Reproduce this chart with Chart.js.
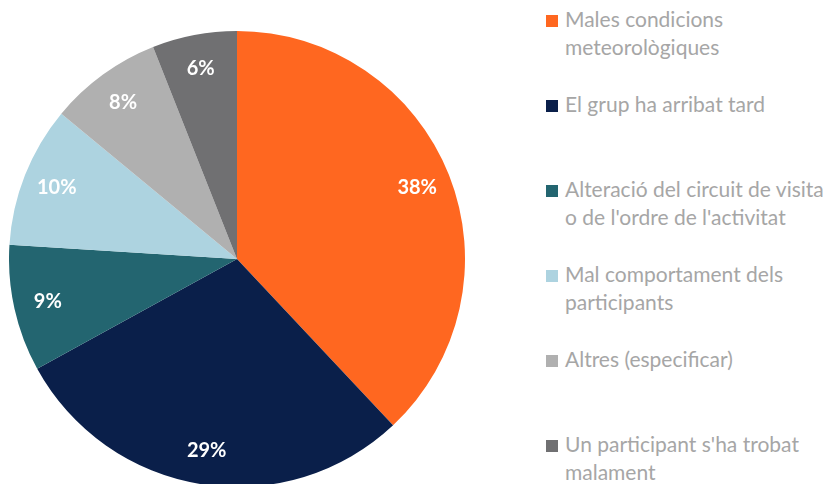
<!DOCTYPE html>
<html>
<head>
<meta charset="utf-8">
<script src="https://cdn.jsdelivr.net/npm/chart.js@4.4.0/dist/chart.umd.min.js"></script>
<style>
  html, body { margin: 0; padding: 0; background: #fff; }
  body { width: 839px; height: 484px; overflow: hidden; position: relative; font-family: Lato, "Open Sans", sans-serif; }
  #wrap { position: absolute; left: 9px; top: 31px; width: 456px; height: 456px; }
  #legend { position: absolute; left: 546px; top: 6px; }
  .item { position: relative; height: 85px; }
  .box { position: absolute; left: 0; top: 9px; width: 12px; height: 12px; }
  .txt { position: absolute; left: 19px; top: -1px; color: #a6a6a6; font-size: 21px; line-height: 28px; white-space: nowrap; }
</style>
</head>
<body>
<div id="wrap"><canvas id="pieChart"></canvas></div>
<div id="legend"></div>
<script>
// categories (split in lines like the original legend)
var labels = [
    ['Males condicions', 'meteorològiques'],
    ['El grup ha arribat tard'],
    ['Alteració del circuit de visita', "o de l'ordre de l'activitat"],
    ['Mal comportament dels', 'participants'],
    ['Altres (especificar)'],
    ["Un participant s'ha trobat", 'malament']
];
var values = [38, 29, 9, 10, 8, 6];
var colors = ['#ff6720', '#0a1f4a', '#236570', '#add3e0', '#b0b0b0', '#707072'];

// etiquetes de percentatge dins de cada porció
var pctLabels = {
    id: 'pctLabels',
    afterDatasetsDraw: function(chart) {
        var ctx = chart.ctx;
        var meta = chart.getDatasetMeta(0);
        var total = values.reduce(function(a, b) { return a + b; }, 0);
        ctx.save();
        ctx.fillStyle = '#ffffff';
        ctx.font = 'bold 20px Lato, "Open Sans", sans-serif';
        ctx.textAlign = 'center';
        ctx.textBaseline = 'middle';
        meta.data.forEach(function(arc, i) {
            var p = arc.getProps(['x', 'y', 'startAngle', 'endAngle', 'outerRadius'], true);
            var mid = (p.startAngle + p.endAngle) / 2;
            var r = p.outerRadius * 0.85;
            var txt = Math.round(values[i] / total * 100) + '%';
            ctx.fillText(txt, p.x + Math.cos(mid) * r, p.y + Math.sin(mid) * r);
        });
        ctx.restore();
    }
};

var ctx = document.getElementById('pieChart').getContext('2d');
var myChart = new Chart(ctx, {
    type: 'pie',
    data: {
        labels: labels,
        datasets: [{
            data: values,
            backgroundColor: colors,
            borderWidth: 0
        }]
    },
    options: {
        responsive: true,
        maintainAspectRatio: false,
        animation: false,
        layout: { padding: 0 },
        plugins: {
            legend: { display: false },
            tooltip: { enabled: false }
        }
    },
    plugins: [pctLabels]
});

// leyenda a la derecha
var legend = document.getElementById('legend');
labels.forEach(function(lines, i) {
    var item = document.createElement('div');
    item.className = 'item';
    var box = document.createElement('div');
    box.className = 'box';
    box.style.background = colors[i];
    var txt = document.createElement('div');
    txt.className = 'txt';
    txt.innerHTML = lines.join('<br>');
    item.appendChild(box);
    item.appendChild(txt);
    legend.appendChild(item);
});
</script>
</body>
</html>
